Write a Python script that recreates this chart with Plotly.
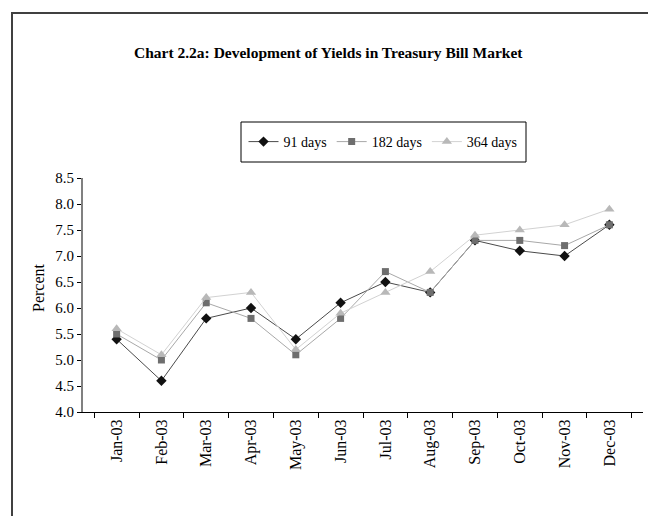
import plotly.graph_objects as go

months = ["Jan-03", "Feb-03", "Mar-03", "Apr-03", "May-03", "Jun-03",
          "Jul-03", "Aug-03", "Sep-03", "Oct-03", "Nov-03", "Dec-03"]
d91 = [5.4, 4.6, 5.8, 6.0, 5.4, 6.1, 6.5, 6.3, 7.3, 7.1, 7.0, 7.6]
d182 = [5.5, 5.0, 6.1, 5.8, 5.1, 5.8, 6.7, 6.3, 7.3, 7.3, 7.2, 7.6]
d364 = [5.6, 5.1, 6.2, 6.3, 5.2, 5.9, 6.3, 6.7, 7.4, 7.5, 7.6, 7.9]
y_ticks = [4.0, 4.5, 5.0, 5.5, 6.0, 6.5, 7.0, 7.5, 8.0, 8.5]

FONT = "Liberation Serif"

fig = go.Figure()
fig.add_trace(go.Scatter(x=months, y=d91, name="91 days", mode="lines+markers",
                         line=dict(color="#4a4a4a", width=1),
                         marker=dict(symbol="diamond", size=8, color="#111111")))
fig.add_trace(go.Scatter(x=months, y=d182, name="182 days", mode="lines+markers",
                         line=dict(color="#a8a8a8", width=1),
                         marker=dict(symbol="square", size=7, color="#6e6e6e")))
fig.add_trace(go.Scatter(x=months, y=d364, name="364 days", mode="lines+markers",
                         line=dict(color="#d2d2d2", width=1),
                         marker=dict(symbol="triangle-up", size=9, color="#b8b8b8")))

W, H = 656, 516
# plot area in figure pixel coordinates (page has an 8px body margin)
L, R, T, B = 75, 21, 170, 112
pw, ph = W - L - R, H - T - B

def px_x(px):
    return (px - L) / pw

def px_y(py):
    return (H - B - py) / ph

fig.update_layout(
    width=W, height=H,
    margin=dict(l=L, r=R, t=T, b=B),
    paper_bgcolor="white", plot_bgcolor="white",
    font=dict(family=FONT, size=15, color="black"),
    showlegend=True,
    legend=dict(orientation="h", x=px_x(375), xanchor="center",
                y=px_y(134), yanchor="middle",
                bgcolor="rgba(0,0,0,0)", borderwidth=0,
                font=dict(family=FONT, size=14), itemwidth=30),
    xaxis=dict(showline=True, linecolor="black", linewidth=1,
               ticks="outside", tickson="boundaries", ticklen=5, tickcolor="black",
               tickangle=-90, showgrid=False, zeroline=False,
               tickfont=dict(family=FONT, size=16)),
    yaxis=dict(range=[4.0, 8.5], tickvals=y_ticks,
               ticktext=[f"{v:.1f}" for v in y_ticks],
               showline=True, linecolor="#808080", linewidth=2,
               ticks="outside", ticklen=4, tickcolor="black",
               showgrid=False, zeroline=False,
               tickfont=dict(family=FONT, size=15)),
    shapes=[
        dict(type="rect", xref="paper", yref="paper",
             x0=px_x(4), x1=px_x(670), y0=px_y(530), y1=px_y(5),
             line=dict(color="#404040", width=2), fillcolor="rgba(0,0,0,0)",
             layer="below"),
        dict(type="rect", xref="paper", yref="paper",
             x0=px_x(233), x1=px_x(518), y0=px_y(154), y1=px_y(114),
             line=dict(color="black", width=1), fillcolor="rgba(0,0,0,0)",
             layer="below"),
    ],
    annotations=[
        dict(text="<b>Chart 2.2a: Development of Yields in Treasury Bill Market</b>",
             xref="paper", yref="paper", x=px_x(124), y=px_y(45),
             xanchor="left", yanchor="middle", showarrow=False,
             font=dict(family=FONT, size=15.5, color="black")),
        dict(text="Percent", textangle=-90,
             xref="paper", yref="paper", x=px_x(30), y=px_y(280),
             xanchor="center", yanchor="middle", showarrow=False,
             font=dict(family=FONT, size=16, color="black")),
    ],
)

fig.write_html("out.html")
